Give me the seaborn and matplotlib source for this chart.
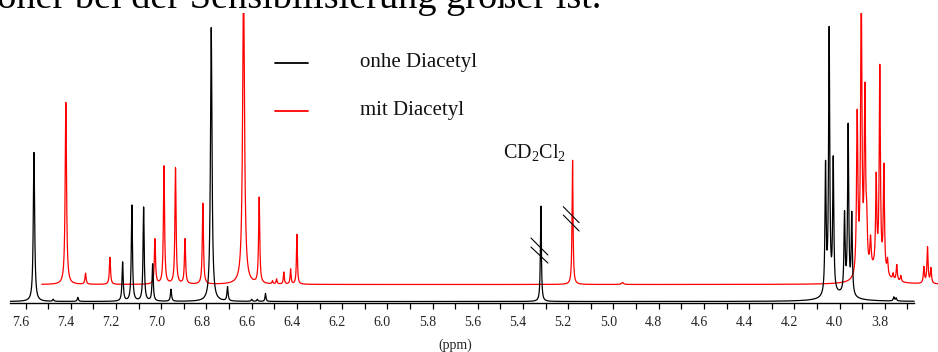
# %% 1H NMR spectra: with / without Diacetyl (stacked, offset)
import numpy as np
import pandas as pd
import matplotlib
matplotlib.use("Agg")
import matplotlib.pyplot as plt
from matplotlib.lines import Line2D
from matplotlib.transforms import ScaledTranslation
import seaborn as sns

# peak lists: position (ppm), height, line width (ppm)
black_ppm = [7.563, 7.478, 7.369, 7.171, 7.130, 7.078, 7.038, 6.957, 6.779, 6.707,
             6.600, 6.575, 6.539, 5.321, 4.062, 4.046, 4.028, 3.978, 3.962, 3.946,
             3.760, 3.750, 4.000]
black_height = [149, 2, 4, 39, 96, 94, 37, 12, 274, 14,
                2, 2, 8, 96, 128, 263, 132, 78, 168, 80,
                4, 3, 6]
black_width = [0.007, 0.006, 0.006, 0.006, 0.006, 0.006, 0.006, 0.006, 0.008, 0.006,
               0.006, 0.006, 0.005, 0.005, 0.006, 0.006, 0.006, 0.006, 0.006, 0.006,
               0.006, 0.006, 0.12]

red_ppm = [7.562, 7.475, 7.367, 7.168, 7.128, 7.077, 7.035, 6.956, 6.776, 6.707,
           6.648, 6.630, 6.598, 6.568, 6.540, 5.321, 5.100,
           4.062, 4.044, 4.028, 4.020, 4.003, 3.978, 3.962, 3.944, 3.928,
           3.903, 3.887, 3.869, 3.767, 3.751, 3.736, 3.975]
red_height = [182, 11, 27, 45, 118, 116, 45, 81, 300, 86,
              3, 5, 12, 15, 50, 125, 2,
              160, 280, 175, 40, 30, 88, 200, 105, 15,
              6, 16, 6, 16, 36, 15, 14]
red_width = [0.007, 0.006, 0.006, 0.006, 0.006, 0.006, 0.006, 0.006, 0.010, 0.006,
             0.005, 0.005, 0.005, 0.005, 0.005, 0.005, 0.01,
             0.007, 0.007, 0.007, 0.007, 0.007, 0.006, 0.006, 0.006, 0.006,
             0.006, 0.006, 0.006, 0.006, 0.006, 0.006, 0.08]

red_shift = 0.14      # ppm, stacked-plot skew of the upper trace
red_offset = 17       # vertical offset of the upper trace

tick_major = np.round(np.arange(3.8, 7.61, 0.2), 1)
tick_minor = np.round(np.arange(3.7, 7.65, 0.1), 1)


def spectrum(ppm, centers, heights, widths):
    y = np.zeros_like(ppm)
    for c, h, w in zip(centers, heights, widths):
        y += h / (1 + (2 * (ppm - c) / w) ** 2)
    return y


ppm = np.linspace(7.669, 3.670, 8000)
df = pd.DataFrame({
    "ppm": ppm,
    "ohne": spectrum(ppm, black_ppm, black_height, black_width),
    "mit": spectrum(ppm, red_ppm, red_height, red_width) + red_offset,
})
df["ppm_red"] = df["ppm"] - red_shift

# %% plot
sns.set_theme(style="white")
plt.rcParams["font.family"] = ["Liberation Serif", "DejaVu Serif"]
plt.rcParams["mathtext.default"] = "regular"

fig = plt.figure(figsize=(9.38, 3.52), dpi=100)
ax = fig.add_axes([10 / 938, 49 / 352, 928 / 938, 290 / 352])

sns.lineplot(data=df, x="ppm_red", y="mit", color="red", lw=0.9,
             estimator=None, sort=False, ax=ax)
sns.lineplot(data=df, x="ppm", y="ohne", color="black", lw=0.9,
             estimator=None, sort=False, ax=ax)

ax.set_xlim(7.669, 7.669 - 928 / 226.1)
ax.set_ylim(-1.5, 288.5)
ax.set_xlabel("")
ax.set_ylabel("")
ax.set_yticks([])
for s in ["left", "right", "top"]:
    ax.spines[s].set_visible(False)
ax.spines["bottom"].set_bounds(3.669, 7.669)
ax.spines["bottom"].set_color("black")
ax.spines["bottom"].set_linewidth(1.0)

ax.set_xticks(tick_major)
ax.set_xticklabels([f"{t:.1f}" for t in tick_major])
ax.set_xticks([t for t in tick_minor if t not in tick_major], minor=True)
ax.tick_params(axis="x", which="both", direction="out", length=4, width=0.9,
               color="black", pad=5, labelsize=10, labelcolor="#222222",
               bottom=True)
for lab in ax.get_xticklabels():
    lab.set_transform(lab.get_transform() + ScaledTranslation(-5 / 100, 0, fig.dpi_scale_trans))

# break marks on the solvent peaks
ax.plot([5.365, 5.290], [63.5, 46.5], color="black", lw=0.8, clip_on=False)
ax.plot([5.365, 5.290], [54.5, 38.5], color="black", lw=0.8, clip_on=False)
ax.plot([5.222, 5.152], [94.8, 78.8], color="black", lw=0.8, clip_on=False)
ax.plot([5.222, 5.152], [86.5, 70.5], color="black", lw=0.8, clip_on=False)

fig.text(503 / 938, 1 - 158.3 / 352, "CD$_\\mathregular{2}$Cl$_\\mathregular{2}$",
         fontsize=14.5, va="baseline", color="#111111")

# legend drawn by hand
fig.add_artist(Line2D([275 / 938, 308 / 938], [1 - 63 / 352] * 2, color="black", lw=1.3))
fig.add_artist(Line2D([275 / 938, 308 / 938], [1 - 110.5 / 352] * 2, color="red", lw=1.3))
fig.text(360 / 938, 1 - 67.3 / 352, "onhe Diacetyl", fontsize=15, va="baseline", color="#111111")
fig.text(360 / 938, 1 - 115 / 352, "mit Diacetyl", fontsize=15, va="baseline", color="#111111")

fig.text(455.5 / 938, 1 - 349 / 352, "(ppm)", fontsize=10, ha="center", va="baseline",
         color="#222222")

# line of body text above the figure, cut off at the top
fig.text(601 / 938, 1 - 8 / 352, "höher bei der Sensibilisierung größer ist.",
         fontsize=27.5, ha="right", va="baseline", color="black")

fig.savefig("out.png", dpi=100)
